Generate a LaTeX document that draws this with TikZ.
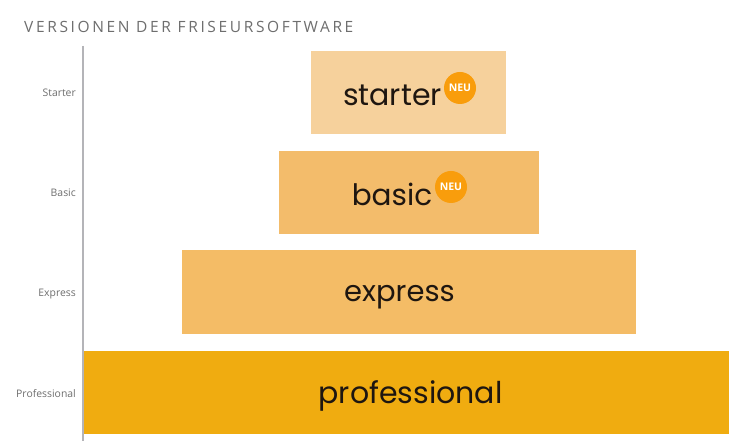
\documentclass[tikz,border=0pt]{standalone}
\usepackage{fontspec}
\setmainfont{Open Sans}
\newfontfamily\logofont{Poppins}
\definecolor{cstarter}{HTML}{F6D19C}
\definecolor{cbasic}{HTML}{F3BC6B}
\definecolor{cexpress}{HTML}{F4BC66}
\definecolor{cpro}{HTML}{F0AC10}
\definecolor{cbadge}{HTML}{F99D0C}
\definecolor{ctext}{HTML}{6E6E6E}
\definecolor{caxis}{HTML}{B4B4B8}
\definecolor{clogo}{HTML}{1E1610}
\tikzset{
  x=1pt,y=-1pt,
  tier/.style={anchor=base,inner sep=0pt,outer sep=0pt,text=clogo,font=\logofont\fontsize{#1}{#1}\selectfont},
  lab/.style={anchor=east,inner sep=0pt,text=ctext,font=\fontsize{10.4}{10.4}\selectfont},
  badge/.style={circle,fill=cbadge,minimum size=32pt,inner sep=0pt,text=white,font=\fontsize{10.5}{10.5}\selectfont\bfseries}
}
\begin{document}
\begin{tikzpicture}
\useasboundingbox (0,0) rectangle (729,443);
\fill[white] (0,0) rectangle (729,443);
\node[anchor=west,inner sep=0pt,text=ctext,font=\fontsize{15.5}{15.5}\selectfont] (title) at (24,27) {\addfontfeature{LetterSpace=17}VERSIONEN DER FRISEURSOFTWARE};
\coordinate (axt) at (83,46);
\coordinate (axb) at (83,441);
\draw[caxis,line width=1.5pt] (axt) -- (axb);
\fill[cstarter] (311,51) rectangle (506,134);
\fill[cbasic] (279,151) rectangle (539,234);
\fill[cexpress] (182,250) rectangle (636,334);
\fill[cpro] (84,351) rectangle (729,434);
\node[tier=30] (starter) at (392.5,106) {starter};
\node[tier=29.5] (basic) at (392,206) {basic};
\node[tier=29] (express) at (399.5,302) {express};
\node[tier=30] (professional) at (410.5,404) {professional};
\node[badge] (b1) at (460,88) {NEU};
\node[badge] (b2) at (451,187) {NEU};
\node[lab] (l1) at (76,93) {Starter};
\node[lab] (l2) at (76,193) {Basic};
\node[lab] (l3) at (76,294) {Express};
\node[lab] (l4) at (76,394) {Professional};
\end{tikzpicture}
\end{document}
